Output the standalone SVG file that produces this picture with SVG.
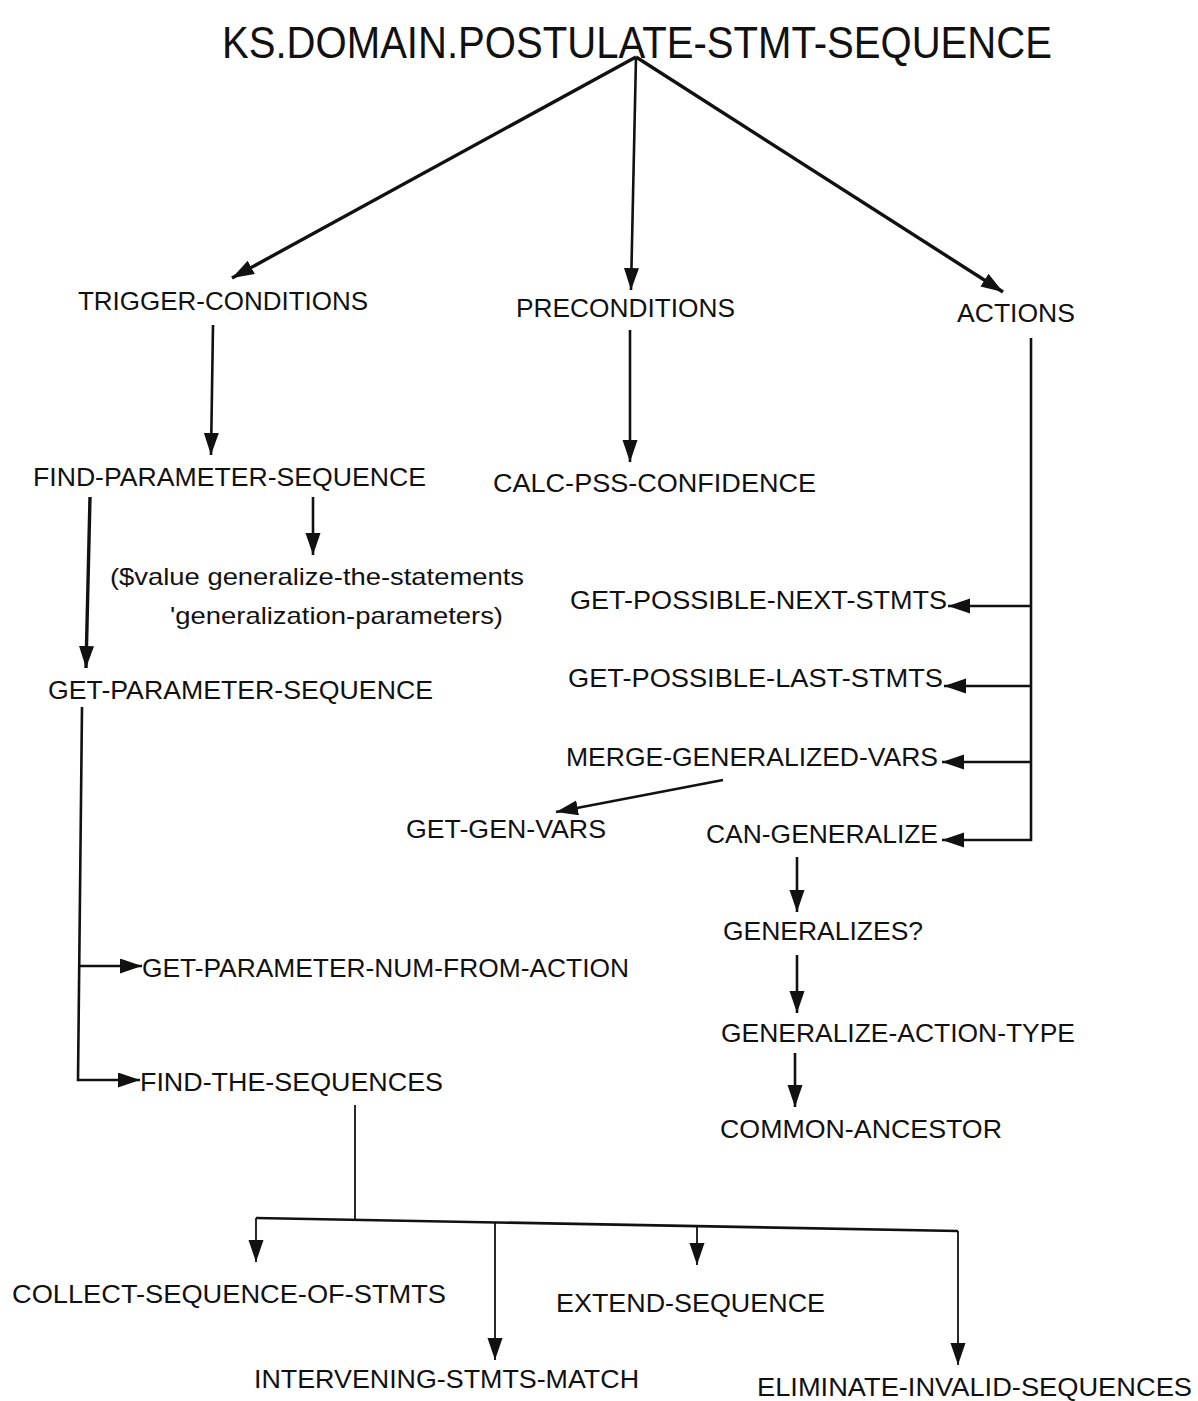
<svg xmlns="http://www.w3.org/2000/svg" width="1198" height="1401" viewBox="0 0 1198 1401">
<style>
text{font-family:"Liberation Sans",Arial,sans-serif;fill:#111;font-size:26px}
.title{font-size:44px}
.low{font-size:24px}
.c{fill:none;stroke:#111;stroke-width:2.6}
.th{stroke-width:3.4}
.tn{stroke-width:1.8}
</style>
<defs>
<marker id="ah" markerUnits="userSpaceOnUse" markerWidth="24" markerHeight="16" refX="22" refY="7.5" orient="auto">
<path d="M0,0 L22,7.5 L0,15 z" fill="#111"/>
</marker>
</defs>
<rect width="1198" height="1401" fill="#fff"/>
<g id="connectors">
<path class="c th" d="M636,57 L232,278" marker-end="url(#ah)"/>
<path class="c" d="M636,57 L631,290" marker-end="url(#ah)"/>
<path class="c th" d="M636,57 L1003,292" marker-end="url(#ah)"/>
<path class="c" d="M213,325 L211,455" marker-end="url(#ah)"/>
<path class="c" d="M630,330 L630,462" marker-end="url(#ah)"/>
<path class="c" d="M313,497 L313,555" marker-end="url(#ah)"/>
<path class="c th" d="M90,497 L86,668" marker-end="url(#ah)"/>
<path class="c" d="M82,707 L78,1080 L140,1080" marker-end="url(#ah)"/>
<path class="c" d="M80,966 L142,966" marker-end="url(#ah)"/>
<path class="c" d="M1031,338 L1031,840 L942,840" marker-end="url(#ah)"/>
<path class="c" d="M1031,606 L948,606" marker-end="url(#ah)"/>
<path class="c" d="M1031,686 L944,686" marker-end="url(#ah)"/>
<path class="c" d="M1031,762 L942,762" marker-end="url(#ah)"/>
<path class="c" d="M723,780 L556,812" marker-end="url(#ah)"/>
<path class="c" d="M797,857 L797,912" marker-end="url(#ah)"/>
<path class="c" d="M797,955 L797,1013" marker-end="url(#ah)"/>
<path class="c" d="M795,1053 L795,1107" marker-end="url(#ah)"/>
<path class="c tn" d="M355,1105 L355,1220"/>
<path class="c" d="M256,1218 L958,1231"/>
<path class="c tn" d="M256,1218 L256,1262" marker-end="url(#ah)"/>
<path class="c tn" d="M495,1222 L495,1360" marker-end="url(#ah)"/>
<path class="c tn" d="M697,1225 L697,1265" marker-end="url(#ah)"/>
<path class="c tn" d="M958,1231 L958,1365" marker-end="url(#ah)"/>
</g>
<g id="root"><text class="title" x="222" y="58" textLength="830" lengthAdjust="spacingAndGlyphs">KS.DOMAIN.POSTULATE-STMT-SEQUENCE</text></g>
<g id="trigger-conditions"><text x="78" y="310" textLength="290" lengthAdjust="spacingAndGlyphs">TRIGGER-CONDITIONS</text></g>
<g id="preconditions"><text x="516" y="317" textLength="219" lengthAdjust="spacingAndGlyphs">PRECONDITIONS</text></g>
<g id="actions"><text x="957" y="322" textLength="118" lengthAdjust="spacingAndGlyphs">ACTIONS</text></g>
<g id="find-parameter-sequence"><text x="33" y="486" textLength="393" lengthAdjust="spacingAndGlyphs">FIND-PARAMETER-SEQUENCE</text></g>
<g id="calc-pss-confidence"><text x="493" y="492" textLength="323" lengthAdjust="spacingAndGlyphs">CALC-PSS-CONFIDENCE</text></g>
<g id="value-expr">
<text class="low" x="110" y="585" textLength="414" lengthAdjust="spacingAndGlyphs">($value generalize-the-statements</text>
<text class="low" x="170" y="624" textLength="333" lengthAdjust="spacingAndGlyphs">'generalization-parameters)</text>
</g>
<g id="get-parameter-sequence"><text x="48" y="699" textLength="385" lengthAdjust="spacingAndGlyphs">GET-PARAMETER-SEQUENCE</text></g>
<g id="get-possible-next-stmts"><text x="570" y="609" textLength="377" lengthAdjust="spacingAndGlyphs">GET-POSSIBLE-NEXT-STMTS</text></g>
<g id="get-possible-last-stmts"><text x="568" y="687" textLength="375" lengthAdjust="spacingAndGlyphs">GET-POSSIBLE-LAST-STMTS</text></g>
<g id="merge-generalized-vars"><text x="566" y="766" textLength="372" lengthAdjust="spacingAndGlyphs">MERGE-GENERALIZED-VARS</text></g>
<g id="get-gen-vars"><text x="406" y="838" textLength="200" lengthAdjust="spacingAndGlyphs">GET-GEN-VARS</text></g>
<g id="can-generalize"><text x="706" y="843" textLength="232" lengthAdjust="spacingAndGlyphs">CAN-GENERALIZE</text></g>
<g id="generalizes"><text x="723" y="940" textLength="200" lengthAdjust="spacingAndGlyphs">GENERALIZES?</text></g>
<g id="generalize-action-type"><text x="721" y="1042" textLength="354" lengthAdjust="spacingAndGlyphs">GENERALIZE-ACTION-TYPE</text></g>
<g id="common-ancestor"><text x="720" y="1138" textLength="282" lengthAdjust="spacingAndGlyphs">COMMON-ANCESTOR</text></g>
<g id="get-parameter-num-from-action"><text x="142" y="977" textLength="487" lengthAdjust="spacingAndGlyphs">GET-PARAMETER-NUM-FROM-ACTION</text></g>
<g id="find-the-sequences"><text x="140" y="1091" textLength="303" lengthAdjust="spacingAndGlyphs">FIND-THE-SEQUENCES</text></g>
<g id="collect-sequence-of-stmts"><text x="12" y="1303" textLength="434" lengthAdjust="spacingAndGlyphs">COLLECT-SEQUENCE-OF-STMTS</text></g>
<g id="extend-sequence"><text x="556" y="1312" textLength="269" lengthAdjust="spacingAndGlyphs">EXTEND-SEQUENCE</text></g>
<g id="intervening-stmts-match"><text x="254" y="1388" textLength="385" lengthAdjust="spacingAndGlyphs">INTERVENING-STMTS-MATCH</text></g>
<g id="eliminate-invalid-sequences"><text x="757" y="1396" textLength="435" lengthAdjust="spacingAndGlyphs">ELIMINATE-INVALID-SEQUENCES</text></g>
</svg>
